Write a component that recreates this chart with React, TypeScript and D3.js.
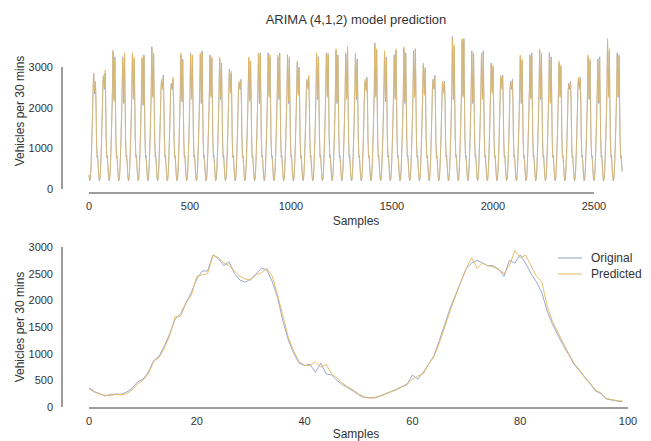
import React from 'react';
import * as d3 from 'd3';

const W = 651;
const H = 441;
const FONT = "'Liberation Sans', Arial, Helvetica, sans-serif";
const ORIG_COLOR = '#8e9ec6';
const PRED_COLOR = '#e3b75c';
const AXIS_COLOR = '#3a3a3a';
const TEXT_COLOR = '#333333';

// ---- Bottom chart: first 100 samples ----
const sampleOriginal = [
  360, 290, 250, 205, 240, 240, 240, 280, 350, 470,
  520, 650, 870, 950, 1150, 1380, 1650, 1750, 1950, 2150,
  2400, 2550, 2550, 2850, 2780, 2650, 2720, 2500, 2380, 2340,
  2400, 2500, 2600, 2570, 2350, 2050, 1600, 1250, 1000, 820,
  780, 800, 650, 820, 620, 600, 500, 420, 360, 300,
  230, 180, 170, 180, 210, 250, 290, 330, 380, 430,
  600, 520, 650, 800, 960, 1250, 1550, 1850, 2100, 2350,
  2600, 2700, 2750, 2700, 2650, 2650, 2580, 2450, 2750, 2700,
  2850, 2700, 2500, 2350, 2150, 1800, 1550, 1350, 1150, 980,
  800, 680, 550, 430, 300, 250, 150, 130, 110, 100,
];
const samplePredicted = [
  340, 280, 240, 220, 210, 240, 230, 250, 320, 430,
  500, 620, 850, 930, 1100, 1350, 1700, 1700, 1950, 2100,
  2450, 2480, 2500, 2850, 2800, 2700, 2650, 2550, 2450, 2400,
  2380, 2480, 2520, 2600, 2450, 2100, 1700, 1300, 1050, 850,
  780, 780, 850, 750, 800, 620, 550, 450, 380, 320,
  250, 190, 170, 170, 200, 240, 280, 320, 370, 420,
  520, 580, 620, 800, 950, 1200, 1500, 1800, 2080, 2350,
  2600, 2800, 2600, 2700, 2650, 2620, 2580, 2500, 2650, 2930,
  2800, 2850, 2650, 2450, 2350, 1900, 1600, 1400, 1200, 1000,
  820, 700, 560, 440, 320, 260, 160, 140, 120, 110,
];

// ---- Top chart: daily key points (48 samples per day) ----
const SAMPLES_PER_DAY = 48;
const riseOffsets = [0, 3, 6, 9, 12, 15, 18, 20];
const riseOriginal = [350, 200, 240, 470, 870, 1380, 1950, 2400];
const risePredicted = [340, 220, 230, 430, 850, 1350, 1950, 2450];
const peakOffsets = [23, 28, 32];
const fallOffsets = [35, 37, 40, 43, 47];
const fallOriginal = [2050, 1250, 780, 820, 420];
const fallPredicted = [2100, 1300, 780, 750, 450];

const amPeak = [
  2850, 2750, 3380, 3250, 3300, 3200, 3500, 2650, 2600, 3300,
  3350, 3300, 3300, 3200, 2950, 2600, 3200, 3300, 3350, 3250,
  3300, 3100, 2700, 3300, 3350, 3400, 3350, 3300, 2650, 3600,
  3350, 3300, 3450, 3400, 3050, 2700, 2600, 3750, 3650, 3400,
  3300, 3100, 2750, 2650, 3250, 3300, 3400, 3350, 3100, 2600,
  2700, 3250, 3200, 3650, 3350,
];
const middayDip = [
  2340, 2450, 2200, 2100, 2250, 2050, 2300, 2500, 2450, 2150,
  2250, 2100, 2300, 2200, 2400, 2450, 2200, 2100, 2300, 2200,
  2100, 2350, 2500, 2200, 2300, 2100, 2250, 2200, 2450, 2300,
  2150, 2250, 2100, 2300, 2350, 2450, 2400, 2200, 2300, 2100,
  2250, 2400, 2500, 2450, 2100, 2250, 2200, 2150, 2300, 2450,
  2500, 2200, 2100, 2300, 2250,
];
const pmPeak = [
  2600, 2850, 3250, 3300, 3200, 3300, 3300, 2800, 2700, 3200,
  3250, 3400, 3200, 3100, 2850, 2700, 3100, 3350, 3250, 3350,
  3200, 3000, 2750, 3250, 3300, 3300, 3450, 3200, 2750, 3400,
  3250, 3400, 3350, 3450, 2950, 2800, 2650, 3500, 3700, 3300,
  3400, 3000, 2800, 2700, 3150, 3350, 3300, 3250, 3000, 2650,
  2750, 3150, 3250, 3400, 3300,
];
const predAmPeak = [
  2850, 2800, 3420, 3200, 3350, 3250, 3450, 2700, 2550, 3350,
  3300, 3350, 3250, 3250, 2900, 2650, 3250, 3350, 3300, 3300,
  3250, 3150, 2650, 3350, 3300, 3450, 3300, 3350, 2700, 3550,
  3400, 3250, 3500, 3350, 3100, 2650, 2650, 3700, 3700, 3350,
  3350, 3050, 2800, 2600, 3300, 3250, 3450, 3300, 3150, 2550,
  2750, 3300, 3150, 3700, 3300,
];
const predMiddayDip = [
  2380, 2500, 2150, 2150, 2200, 2100, 2250, 2450, 2500, 2200,
  2200, 2150, 2250, 2250, 2350, 2500, 2150, 2150, 2250, 2250,
  2150, 2300, 2450, 2250, 2250, 2150, 2200, 2250, 2400, 2250,
  2200, 2200, 2150, 2250, 2300, 2500, 2350, 2250, 2250, 2150,
  2200, 2350, 2450, 2500, 2150, 2200, 2250, 2100, 2250, 2500,
  2450, 2250, 2150, 2250, 2300,
];
const predPmPeak = [
  2650, 2930, 3200, 3350, 3250, 3250, 3350, 2750, 2750, 3150,
  3300, 3350, 3250, 3050, 2900, 2650, 3150, 3300, 3300, 3300,
  3250, 2950, 2800, 3200, 3350, 3250, 3500, 3150, 2700, 3450,
  3200, 3450, 3300, 3400, 3000, 2750, 2600, 3550, 3650, 3350,
  3350, 3050, 2750, 2650, 3200, 3300, 3350, 3200, 3050, 2600,
  2700, 3200, 3200, 3450, 3250,
];

const topYTicks = [0, 1000, 2000, 3000];
const topXTicks = [0, 500, 1000, 1500, 2000, 2500];
const botYTicks = [0, 500, 1000, 1500, 2000, 2500, 3000];
const botXTicks = [0, 20, 40, 60, 80, 100];

type Pt = [number, number];

function buildDaily(
  rise: number[], am: number[], dip: number[], pm: number[], fall: number[]
): Pt[] {
  const pts: Pt[] = [];
  am.forEach((_, d) => {
    const base = d * SAMPLES_PER_DAY;
    riseOffsets.forEach((o, i) => pts.push([base + o, rise[i]]));
    const mids = [am[d], dip[d], pm[d]];
    peakOffsets.forEach((o, i) => pts.push([base + o, mids[i]]));
    fallOffsets.forEach((o, i) => pts.push([base + o, fall[i]]));
  });
  return pts;
}

const topOriginal = buildDaily(riseOriginal, amPeak, middayDip, pmPeak, fallOriginal);
const topPredicted = buildDaily(risePredicted, predAmPeak, predMiddayDip, predPmPeak, fallPredicted);

export default function App() {
  const xTop = d3.scaleLinear().domain([0, 2500]).range([89, 594]);
  const yTop = d3.scaleLinear().domain([0, 3000]).range([189, 67]);
  const xBot = d3.scaleLinear().domain([0, 100]).range([89, 628]);
  const yBot = d3.scaleLinear().domain([0, 3000]).range([407, 247]);

  const lineTop = d3.line<Pt>().x((p) => xTop(p[0])).y((p) => yTop(p[1]));
  const lineBot = d3.line<number>().x((_, i) => xBot(i)).y((v) => yBot(v));

  const tickStyle = { fontFamily: FONT, fontSize: 11, fill: TEXT_COLOR };
  const labelStyle = { fontFamily: FONT, fontSize: 12, fill: TEXT_COLOR };

  return (
    <svg
      width={W}
      height={H}
      style={{ position: 'absolute', left: 0, top: 0, background: '#fff' }}
    >
      <rect x={0} y={0} width={W} height={H} fill="#fff" />
      <text x={356} y={24} textAnchor="middle" style={{ fontFamily: FONT, fontSize: 13, fill: TEXT_COLOR }}>
        ARIMA (4,1,2) model prediction
      </text>

      {/* ===== Top panel ===== */}
      <path d={lineTop(topOriginal) || ''} fill="none" stroke={ORIG_COLOR} strokeWidth={0.75} />
      <path d={lineTop(topPredicted) || ''} fill="none" stroke={PRED_COLOR} strokeWidth={0.75} />
      <line x1={62} x2={62} y1={yTop(3000)} y2={yTop(0)} stroke={AXIS_COLOR} strokeWidth={1} />
      <line x1={xTop(0)} x2={xTop(2500)} y1={193} y2={193} stroke={AXIS_COLOR} strokeWidth={1} />
      {topYTicks.map((t) => (
        <text key={'ty' + t} x={53} y={yTop(t) + 4} textAnchor="end" style={tickStyle}>{t}</text>
      ))}
      {topXTicks.map((t) => (
        <text key={'tx' + t} x={xTop(t)} y={210} textAnchor="middle" style={tickStyle}>{t}</text>
      ))}
      <text x={356} y={225} textAnchor="middle" style={labelStyle}>Samples</text>
      <text transform="translate(24,111) rotate(-90)" textAnchor="middle" style={labelStyle}>
        Vehicles per 30 mins
      </text>

      {/* ===== Bottom panel ===== */}
      <path d={lineBot(sampleOriginal) || ''} fill="none" stroke={ORIG_COLOR} strokeWidth={0.9} />
      <path d={lineBot(samplePredicted) || ''} fill="none" stroke={PRED_COLOR} strokeWidth={0.9} />
      <line x1={62} x2={62} y1={yBot(3000)} y2={yBot(0)} stroke={AXIS_COLOR} strokeWidth={1} />
      <line x1={xBot(0)} x2={xBot(100)} y1={408} y2={408} stroke={AXIS_COLOR} strokeWidth={1} />
      {botYTicks.map((t) => (
        <text key={'by' + t} x={53} y={yBot(t) + 4} textAnchor="end" style={tickStyle}>{t}</text>
      ))}
      {botXTicks.map((t) => (
        <text key={'bx' + t} x={xBot(t)} y={425} textAnchor="middle" style={tickStyle}>{t}</text>
      ))}
      <text x={356} y={438} textAnchor="middle" style={labelStyle}>Samples</text>
      <text transform="translate(24,327) rotate(-90)" textAnchor="middle" style={labelStyle}>
        Vehicles per 30 mins
      </text>

      {/* Legend */}
      <line x1={558} x2={582} y1={258} y2={258} stroke={ORIG_COLOR} strokeWidth={1} />
      <text x={591} y={262} style={labelStyle}>Original</text>
      <line x1={558} x2={582} y1={274} y2={274} stroke={PRED_COLOR} strokeWidth={1} />
      <text x={591} y={278} style={labelStyle}>Predicted</text>
    </svg>
  );
}
